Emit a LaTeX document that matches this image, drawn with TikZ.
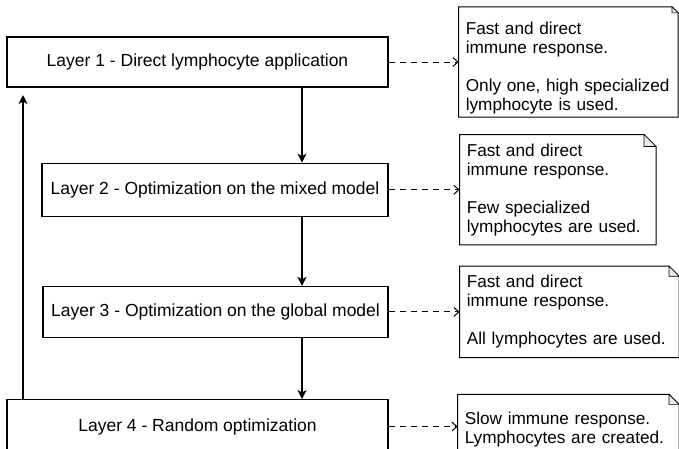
\documentclass[tikz,border=0pt]{standalone}
\usepackage{fontspec}
\setmainfont{Liberation Sans}
\usetikzlibrary{arrows.meta, positioning}

% frame with a folded corner round a note node
\newcommand{\notefold}[2]{%
  \draw[line width=1pt] (#1.south west) -- (#1.north west)
    -- ([xshift=-#2]#1.north east) -- ([yshift=-#2]#1.north east)
    -- (#1.south east) -- cycle;
  \draw[line width=0.6pt, fill=black!8] ([xshift=-#2]#1.north east)
    |- ([yshift=-#2]#1.north east) -- cycle;}

\begin{document}
\begin{tikzpicture}[
    x=1pt, y=-1pt,
    layerbox/.style={draw, fill=white, line width=1.2pt, inner sep=0pt,
                     font=\fontsize{17.5}{20}\selectfont},
    notebox/.style={align=left, inner xsep=7pt, inner ysep=0pt,
                    font=\fontsize{17.2}{19}\selectfont},
    flow/.style={-{Stealth[length=9pt, width=9pt, inset=2.5pt]}, line width=1.2pt},
    dasharrow/.style={-{Straight Barb[length=5pt, width=9pt]},
                      dash pattern=on 6pt off 5pt, line width=1pt}
  ]
  \useasboundingbox (0,0) rectangle (679,448);
  \clip (0,0) rectangle (679,448);

  % layers
  \node[layerbox, minimum width=381pt, minimum height=50pt] (l1) at (197.5,62)
    {Layer 1 - Direct lymphocyte application};
  \node[layerbox, minimum width=346pt, minimum height=53pt,
        below=75pt of l1.south east, anchor=north east] (l2)
    {Layer 2 - Optimization on the mixed model};
  \node[layerbox, minimum width=345pt, minimum height=51pt,
        below=69pt of l2.south east, anchor=north east] (l3)
    {Layer 3 - Optimization on the global model};
  \node[layerbox, minimum width=381pt, minimum height=54pt,
        below=61pt of l3.south east, anchor=north east] (l4)
    {Layer 4 - Random optimization};

  % notes
  \node[notebox, text width=205pt, minimum width=219pt, minimum height=110pt,
        text height=25pt, right=70pt of l1] (n1)
    {Fast and direct\\immune response.\\[19pt]Only one, high specialized\\lymphocyte is used.};
  \node[notebox, text width=182pt, minimum width=196pt, minimum height=110pt,
        right=71pt of l2] (n2)
    {Fast and direct\\immune response.\\[19pt]Few specialized\\lymphocytes are used.};
  \node[notebox, text width=205pt, minimum width=219pt, minimum height=91pt,
        right=71pt of l3] (n3)
    {Fast and direct\\immune response.\\[19pt]All lymphocytes are used.};
  \node[notebox, text width=207pt, minimum width=221pt, minimum height=70pt,
        right=69pt of l4, yshift=-3pt] (n4)
    {Slow immune response.\\Lymphocytes are created.};
  \notefold{n1}{6pt}
  \notefold{n2}{12pt}
  \notefold{n3}{10pt}
  \notefold{n4}{10pt}

  % connectors
  \coordinate (spine) at (302,0);
  \coordinate (back) at (23,95);
  \draw[flow] (l1.south -| spine) -- (l2.north -| spine);
  \draw[flow] (l2.south -| spine) -- (l3.north -| spine);
  \draw[flow] (l3.south -| spine) -- (l4.north -| spine);
  \draw[flow] (l4.north -| back) -- (back);

  \draw[dasharrow] (l1.east) -- (l1.east -| n1.west);
  \draw[dasharrow] (l2.east) -- (l2.east -| n2.west);
  \draw[dasharrow] (l3.east) -- (l3.east -| n3.west);
  \draw[dasharrow] (l4.east) -- (l4.east -| n4.west);
\end{tikzpicture}
\end{document}
